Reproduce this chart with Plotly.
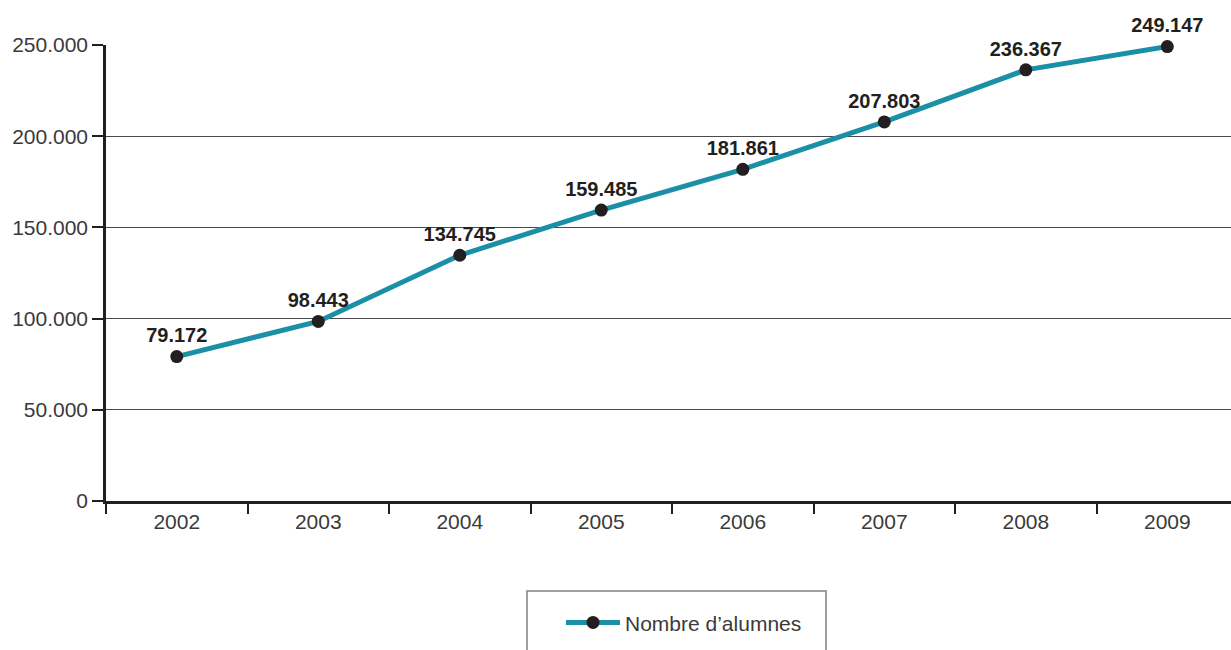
import plotly.graph_objects as go

years = ["2002", "2003", "2004", "2005", "2006", "2007", "2008", "2009"]
alumnes = [79172, 98443, 134745, 159485, 181861, 207803, 236367, 249147]
series_name = "Nombre d\u2019alumnes"
y_ticks = [0, 50000, 100000, 150000, 200000, 250000]

FONT = "Liberation Sans, Arial, Helvetica, sans-serif"

fig = go.Figure()
fig.add_trace(go.Scatter(
    x=years, y=alumnes, name=series_name,
    mode="lines+markers+text",
    line=dict(color="#1a8fa5", width=5),
    marker=dict(color="#231f20", size=13),
    texttemplate="%{y:,d}",
    textposition="top center",
    textfont=dict(family=FONT, size=20, color="#231f20", weight="bold"),
    cliponaxis=False,
))

fig.update_layout(
    width=1231, height=650,
    margin=dict(l=106, r=0, t=45, b=149),
    paper_bgcolor="white", plot_bgcolor="white",
    separators=",.",
    font=dict(family=FONT, size=21, color="#3a3a3a"),
    showlegend=True,
    legend=dict(
        orientation="h",
        x=(561 - 106) / 1125, xanchor="left",
        y=-0.222, yanchor="top",
        bgcolor="rgba(0,0,0,0)",
        borderwidth=0,
        itemwidth=54,
        font=dict(family=FONT, size=21, color="#3a3a3a"),
    ),
    shapes=[dict(
        type="rect", xref="paper", yref="paper",
        x0=(527 - 106) / 1125, x1=(826 - 106) / 1125,
        y0=-(670 - 501) / 456, y1=-(591 - 501) / 456,
        line=dict(color="#808080", width=1.5),
        fillcolor="rgba(0,0,0,0)",
    )],
)

fig.update_xaxes(
    type="category",
    range=[-0.5, 7.45],
    showline=True, linecolor="#231f20", linewidth=2.5,
    ticks="outside", tickson="boundaries", ticklen=10, tickwidth=2, tickcolor="#231f20",
    showgrid=False,
    tickfont=dict(family=FONT, size=21, color="#3a3a3a"),
)
fig.update_yaxes(
    range=[0, 250000],
    tickvals=y_ticks,
    tickformat=",d",
    showline=True, linecolor="#231f20", linewidth=2.5,
    ticks="outside", ticklen=11, tickwidth=2, tickcolor="#231f20",
    showgrid=True, gridcolor="#4a4a4a", gridwidth=1,
    zeroline=False,
    tickfont=dict(family=FONT, size=21, color="#3a3a3a"),
)

fig.write_html(
    "out.html",
    config={"displayModeBar": False},
    post_script="document.body.style.margin='0';document.body.style.overflow='hidden';",
)
